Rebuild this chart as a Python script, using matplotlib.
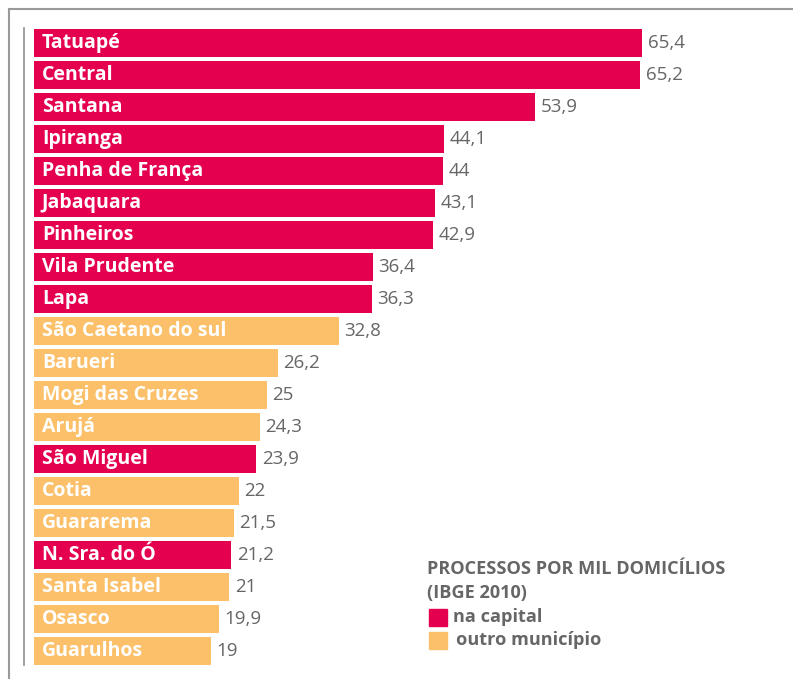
import matplotlib
matplotlib.use("Agg")
import matplotlib.pyplot as plt
from matplotlib.lines import Line2D
from matplotlib.patches import Rectangle

names = ["Tatuapé", "Central", "Santana", "Ipiranga", "Penha de França", "Jabaquara",
         "Pinheiros", "Vila Prudente", "Lapa", "São Caetano do sul", "Barueri",
         "Mogi das Cruzes", "Arujá", "São Miguel", "Cotia", "Guararema",
         "N. Sra. do Ó", "Santa Isabel", "Osasco", "Guarulhos"]
values = [65.4, 65.2, 53.9, 44.1, 44, 43.1, 42.9, 36.4, 36.3, 32.8, 26.2,
          25, 24.3, 23.9, 22, 21.5, 21.2, 21, 19.9, 19]
capital = [1, 1, 1, 1, 1, 1, 1, 1, 1, 0, 0, 0, 0, 1, 0, 0, 1, 0, 0, 0]

RED = "#e4004f"
ORANGE = "#fbc069"
GRAY = "#666666"
LINE = "#9a9a9a"

plt.rcParams['font.family'] = ['Open Sans', 'DejaVu Sans']

W, H = 793, 679
fig = plt.figure(figsize=(W / 100, H / 100), dpi=100)

# axes in pixel terms: left 34, top 27, bottom 667
ax = fig.add_axes([34 / W, 1 - 667 / H, (W - 34) / W, 640 / H])
ax.set_xlim(0, (W - 34) / 9.3)
ax.set_ylim(19.5, -0.5)
ax.axis("off")

colors = [RED if c else ORANGE for c in capital]
ax.barh(range(len(values)), values, height=0.875, color=colors, linewidth=0)

for i, (n, v) in enumerate(zip(names, values)):
    ax.text(0.85, i, n, color="white", fontweight="bold", fontsize=14,
            va="center", ha="left")
    lab = str(v).replace(".", ",")
    ax.text(v + 0.6, i, lab, color=GRAY, fontsize=13.5, va="center", ha="left")

# frame lines
def fx(px):
    return px / W

def fy(py):
    return 1 - py / H

fig.add_artist(Line2D([fx(9), fx(W)], [fy(9), fy(9)], color=LINE, lw=1.5))
fig.add_artist(Line2D([fx(9), fx(9)], [fy(9), fy(H)], color=LINE, lw=1.5))
fig.add_artist(Line2D([fx(24), fx(24)], [fy(28), fy(665)], color=LINE, lw=1.3))

# legend
fs = 13.1
fig.text(fx(427), fy(569), "PROCESSOS POR MIL DOMICÍLIOS", color=GRAY,
         fontweight="bold", fontsize=fs, va="center", ha="left")
fig.text(fx(427), fy(593), "(IBGE 2010)", color=GRAY,
         fontweight="bold", fontsize=fs, va="center", ha="left")
fig.add_artist(Rectangle((fx(429), fy(626)), 18 / W, 17 / H, color=RED,
                         transform=fig.transFigure))
fig.add_artist(Rectangle((fx(429), fy(649)), 18 / W, 17 / H, color=ORANGE,
                         transform=fig.transFigure))
fig.text(fx(453), fy(617), "na capital", color=GRAY,
         fontweight="bold", fontsize=fs, va="center", ha="left")
fig.text(fx(456), fy(640), "outro município", color=GRAY,
         fontweight="bold", fontsize=fs, va="center", ha="left")

fig.savefig("out.png", dpi=100)
